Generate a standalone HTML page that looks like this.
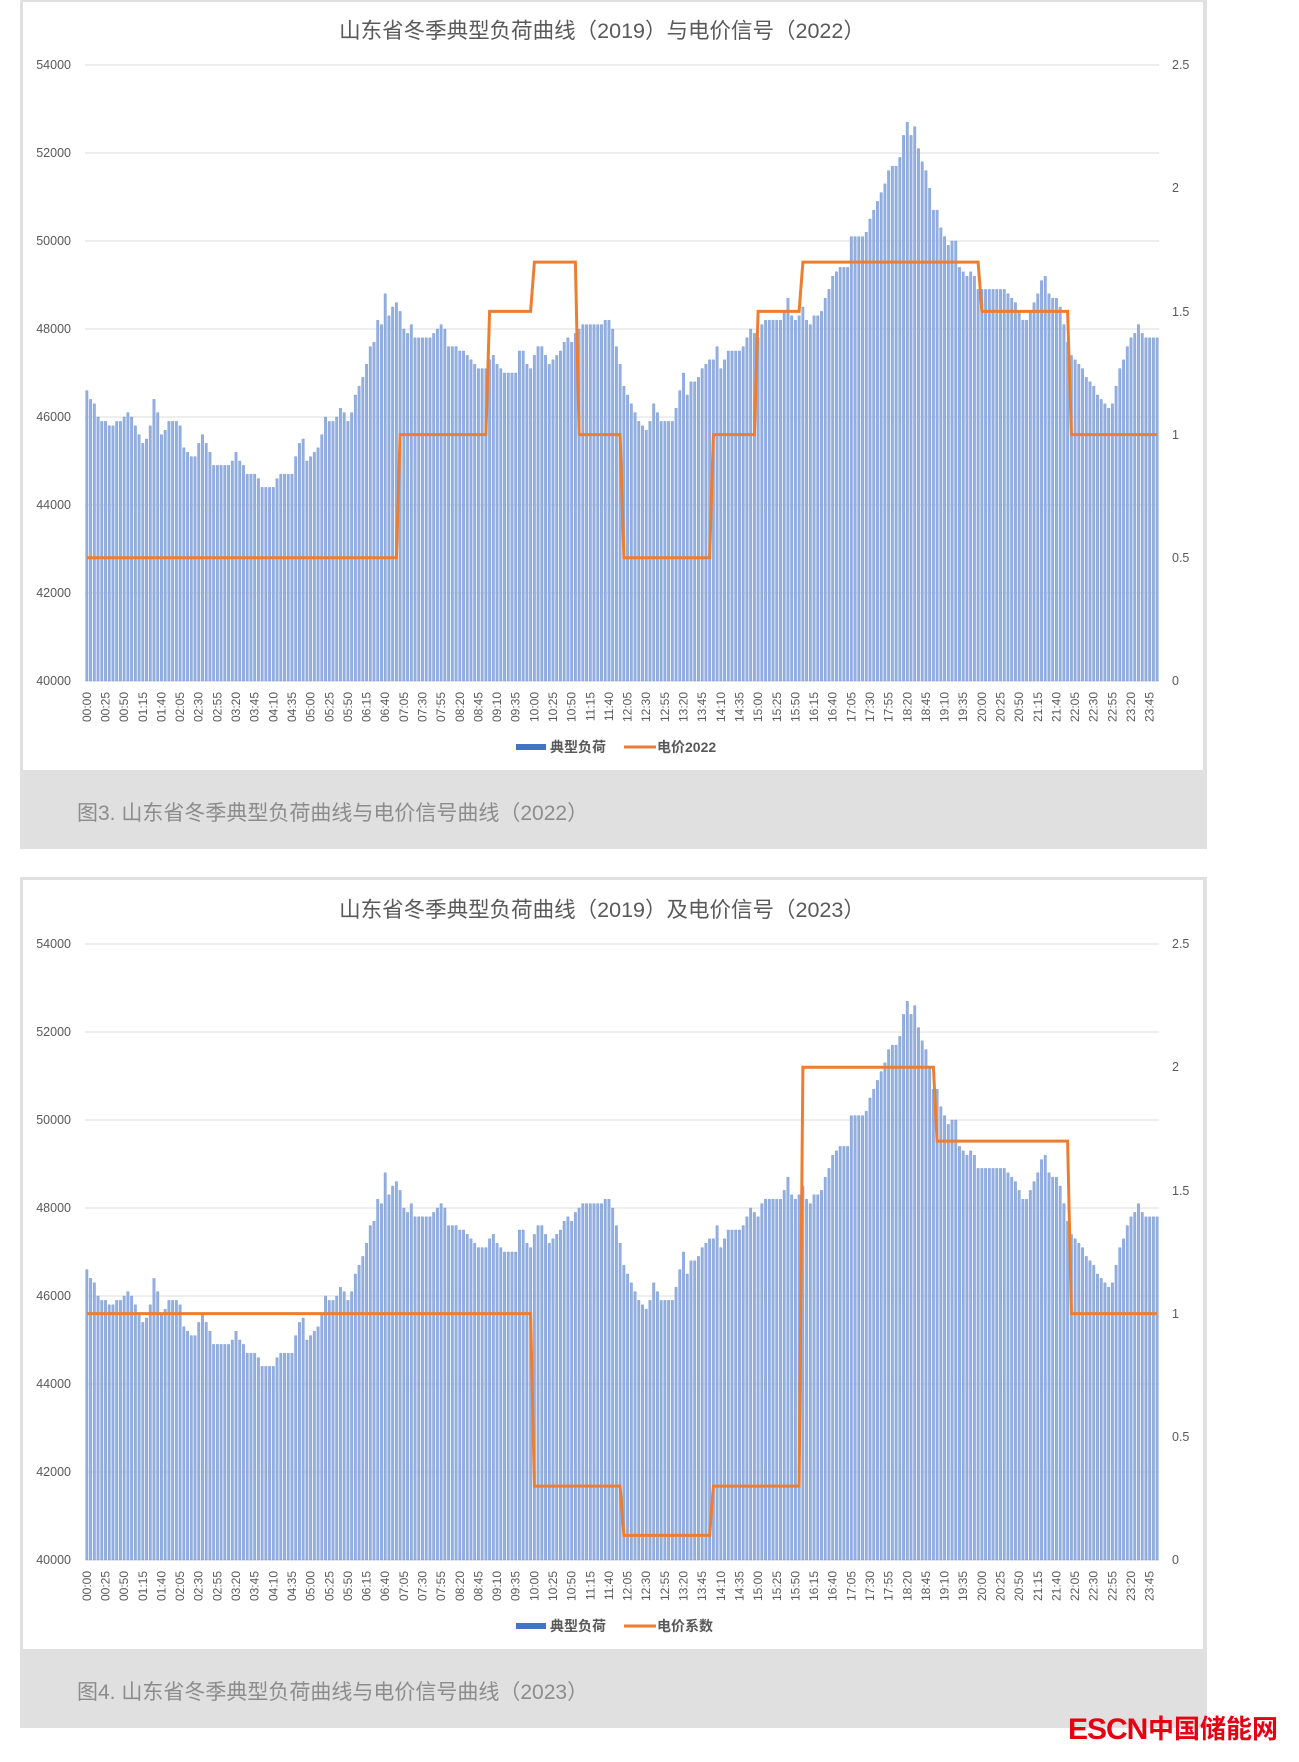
<!DOCTYPE html>
<html><head><meta charset="utf-8">
<style>
html,body{margin:0;padding:0;background:#fff;}
svg{display:block;}
text{font-family:"Liberation Sans","Noto Sans CJK SC",sans-serif;}
.t{font-size:21.5px;fill:#595959;}
.yl{font-size:12.5px;fill:#595959;text-anchor:end;}
.yr{font-size:12.5px;fill:#595959;}
.xl text{font-size:12px;fill:#595959;text-anchor:end;}
.lg{font-size:14px;fill:#595959;font-weight:bold;}
.cap{font-size:21px;fill:#8c8c8c;}
</style></head><body>
<svg id="s" width="1299" height="1762" viewBox="0 0 1299 1762" xmlns="http://www.w3.org/2000/svg">
<rect width="1299" height="1762" fill="#fff"/>
<g id="c1">
 <rect x="20" y="0" width="1187" height="849" fill="#e0e0e0"/>
 <rect x="23" y="2" width="1180" height="768" fill="#fff"/>
 <g class="grid"></g>
 <g class="bars"></g>
 <polyline class="price" fill="none" stroke="#ed7d31" stroke-width="3" stroke-linejoin="miter"/>
 <text class="t" x="602" y="38" text-anchor="middle">山东省冬季典型负荷曲线（2019）与电价信号（2022）</text>
 <text class="yl" x="71" y="69">54000</text><text class="yl" x="71" y="157">52000</text><text class="yl" x="71" y="245">50000</text><text class="yl" x="71" y="333">48000</text><text class="yl" x="71" y="421">46000</text><text class="yl" x="71" y="509">44000</text><text class="yl" x="71" y="597">42000</text><text class="yl" x="71" y="685">40000</text>
 <text class="yr" x="1172" y="69">2.5</text><text class="yr" x="1172" y="192">2</text><text class="yr" x="1172" y="316">1.5</text><text class="yr" x="1172" y="439">1</text><text class="yr" x="1172" y="562">0.5</text><text class="yr" x="1172" y="685">0</text>
 <g class="xl"><text>00:00</text><text>00:25</text><text>00:50</text><text>01:15</text><text>01:40</text><text>02:05</text><text>02:30</text><text>02:55</text><text>03:20</text><text>03:45</text><text>04:10</text><text>04:35</text><text>05:00</text><text>05:25</text><text>05:50</text><text>06:15</text><text>06:40</text><text>07:05</text><text>07:30</text><text>07:55</text><text>08:20</text><text>08:45</text><text>09:10</text><text>09:35</text><text>10:00</text><text>10:25</text><text>10:50</text><text>11:15</text><text>11:40</text><text>12:05</text><text>12:30</text><text>12:55</text><text>13:20</text><text>13:45</text><text>14:10</text><text>14:35</text><text>15:00</text><text>15:25</text><text>15:50</text><text>16:15</text><text>16:40</text><text>17:05</text><text>17:30</text><text>17:55</text><text>18:20</text><text>18:45</text><text>19:10</text><text>19:35</text><text>20:00</text><text>20:25</text><text>20:50</text><text>21:15</text><text>21:40</text><text>22:05</text><text>22:30</text><text>22:55</text><text>23:20</text><text>23:45</text></g>
 <rect x="516" y="744" width="30" height="6" fill="#4472c4"/>
 <text class="lg" x="550" y="752">典型负荷</text>
 <line x1="624" y1="747" x2="656" y2="747" stroke="#ed7d31" stroke-width="3"/>
 <text class="lg" x="657" y="752">电价2022</text>
 <text class="cap" x="77" y="820">图3. 山东省冬季典型负荷曲线与电价信号曲线（2022）</text>
</g>
<g id="c2" transform="translate(0,879)">
 <rect x="20" y="-2" width="1187" height="851" fill="#e0e0e0"/>
 <rect x="23" y="1" width="1180" height="769" fill="#fff"/>
 <g class="grid"></g>
 <g class="bars"></g>
 <polyline class="price" fill="none" stroke="#ed7d31" stroke-width="3" stroke-linejoin="miter"/>
 <text class="t" x="602" y="38" text-anchor="middle">山东省冬季典型负荷曲线（2019）及电价信号（2023）</text>
 <text class="yl" x="71" y="69">54000</text><text class="yl" x="71" y="157">52000</text><text class="yl" x="71" y="245">50000</text><text class="yl" x="71" y="333">48000</text><text class="yl" x="71" y="421">46000</text><text class="yl" x="71" y="509">44000</text><text class="yl" x="71" y="597">42000</text><text class="yl" x="71" y="685">40000</text>
 <text class="yr" x="1172" y="69">2.5</text><text class="yr" x="1172" y="192">2</text><text class="yr" x="1172" y="316">1.5</text><text class="yr" x="1172" y="439">1</text><text class="yr" x="1172" y="562">0.5</text><text class="yr" x="1172" y="685">0</text>
 <g class="xl"><text>00:00</text><text>00:25</text><text>00:50</text><text>01:15</text><text>01:40</text><text>02:05</text><text>02:30</text><text>02:55</text><text>03:20</text><text>03:45</text><text>04:10</text><text>04:35</text><text>05:00</text><text>05:25</text><text>05:50</text><text>06:15</text><text>06:40</text><text>07:05</text><text>07:30</text><text>07:55</text><text>08:20</text><text>08:45</text><text>09:10</text><text>09:35</text><text>10:00</text><text>10:25</text><text>10:50</text><text>11:15</text><text>11:40</text><text>12:05</text><text>12:30</text><text>12:55</text><text>13:20</text><text>13:45</text><text>14:10</text><text>14:35</text><text>15:00</text><text>15:25</text><text>15:50</text><text>16:15</text><text>16:40</text><text>17:05</text><text>17:30</text><text>17:55</text><text>18:20</text><text>18:45</text><text>19:10</text><text>19:35</text><text>20:00</text><text>20:25</text><text>20:50</text><text>21:15</text><text>21:40</text><text>22:05</text><text>22:30</text><text>22:55</text><text>23:20</text><text>23:45</text></g>
 <rect x="516" y="744" width="30" height="6" fill="#4472c4"/>
 <text class="lg" x="550" y="752">典型负荷</text>
 <line x1="624" y1="747" x2="656" y2="747" stroke="#ed7d31" stroke-width="3"/>
 <text class="lg" x="657" y="752">电价系数</text>
 <text class="cap" x="77" y="820">图4. 山东省冬季典型负荷曲线与电价信号曲线（2023）</text>
</g>
<text x="1068" y="1739" style="font-size:30px;font-weight:bold;fill:#e60012;letter-spacing:-1px">ESCN</text>
<text x="1148" y="1738" style="font-size:26px;font-weight:bold;fill:#e60012;">中国储能网</text>
</svg>
<script>
var NS="http://www.w3.org/2000/svg";
var L=85,R=1159,N=288,W=(R-L)/N;
function yv(v){return 681-(v-40000)*88/2000;}
function yp(p){return 681-p*246.4;}
var cp=[[78,46600],[84,46300],[90,45900],[100,45800],[108,45900],[115,46100],[122,45800],[125,45500],[130,45400],[135,45900],[138,46400],[142,46000],[145,45500],[150,45900],[160,45900],[165,45200],[175,45100],[180,45600],[185,45400],[190,44900],[205,44900],[210,45200],[215,45000],[220,44700],[228,44700],[235,44400],[245,44400],[248,44700],[260,44700],[265,45200],[270,45600],[274,45000],[280,45200],[285,45400],[290,46000],[295,45900],[300,46000],[305,46300],[310,45900],[314,46100],[318,46600],[325,47000],[330,47600],[334,47700],[337,48200],[340,48100],[343,48900],[346,48200],[350,48500],[353,48600],[357,48400],[362,47700],[366,48200],[370,47800],[378,47800],[385,47800],[395,48200],[400,47600],[415,47500],[420,47300],[425,47100],[435,47100],[438,47500],[442,47200],[450,47000],[460,47000],[464,47700],[468,47300],[472,47000],[480,47700],[484,47500],[490,47200],[500,47500],[505,47800],[510,47700],[515,48000],[522,48100],[535,48100],[543,48200],[548,47800],[552,47200],[555,46800],[560,46400],[565,46100],[570,45800],[575,45700],[580,46000],[583,46400],[587,46000],[590,45900],[600,45900],[605,46500],[608,47100],[612,46500],[616,46800],[620,46800],[625,47100],[630,47300],[635,47300],[638,47700],[642,47100],[648,47500],[660,47500],[668,48000],[675,47800],[680,48200],[695,48200],[700,48500],[702,48700],[706,48200],[712,48300],[715,48500],[720,48000],[725,48300],[730,48300],[735,48700],[740,49100],[742,49300],[750,49400],[756,49400],[758,50100],[770,50100],[775,50500],[780,50800],[785,51100],[790,51500],[794,51700],[800,51700],[803,52300],[808,52700],[811,52400],[815,52600],[818,52000],[822,51700],[826,51500],[830,50700],[834,50700],[838,50300],[842,50000],[846,49800],[850,50300],[853,49400],[858,49300],[861,49200],[866,49300],[870,48900],[895,48900],[900,48700],[905,48600],[910,48200],[915,48200],[920,48600],[925,48900],[930,49300],[934,48800],[940,48700],[945,48400],[950,47700],[954,47400],[958,47300],[962,47200],[966,46900],[970,46800],[975,46600],[980,46400],[985,46300],[988,46100],[992,46500],[996,47000],[1000,47300],[1005,47800],[1010,47900],[1014,48100],[1018,47800],[1024,47800],[1030,47800]];
function load(i){var xd=78+i*(1030-78)/(N-1);for(var k=0;k<cp.length-1;k++){if(xd<=cp[k+1][0]){var a=cp[k],b=cp[k+1];var t=(xd-a[0])/(b[0]-a[0]);return a[1]+(b[1]-a[1])*t;}}return cp[cp.length-1][1];}
var p1=[[0,7,0.5],[7,9,1],[9,10,1.5],[10,11,1.7],[11,12,1],[12,14,0.5],[14,15,1],[15,16,1.5],[16,20,1.7],[20,22,1.5],[22,24,1]];
var p2=[[0,10,1],[10,12,0.3],[12,14,0.1],[14,16,0.3],[16,19,2],[19,22,1.7],[22,24,1]];
function cx(i){return L+(i+0.5)*W;}
function build(g,segs){
 var grid=g.querySelector('.grid'),bars=g.querySelector('.bars');
 for(var v=40000;v<=54000;v+=2000){var l=document.createElementNS(NS,'line');l.setAttribute('x1',L);l.setAttribute('x2',R);l.setAttribute('y1',yv(v));l.setAttribute('y2',yv(v));l.setAttribute('stroke','#e3e3e3');l.setAttribute('stroke-width','1.2');grid.appendChild(l);}
 var d='';
 for(var i=0;i<N;i++){var v=Math.round(load(i)/100)*100;var y=yv(v);var x=cx(i)-1.2;d+='M'+x.toFixed(2)+' '+y.toFixed(1)+'h2.4V681h-2.4z';}
 var p=document.createElementNS(NS,'path');p.setAttribute('d',d);p.setAttribute('fill','#93afe0');p.setAttribute('stroke','#7a99d3');p.setAttribute('stroke-width','0.4');bars.appendChild(p);
 var pts=[];segs.forEach(function(s){pts.push(cx(s[0]*12).toFixed(1)+','+yp(s[2]).toFixed(1));pts.push(cx(s[1]*12-1).toFixed(1)+','+yp(s[2]).toFixed(1));});
 g.querySelector('.price').setAttribute('points',pts.join(' '));
 var ts=g.querySelectorAll('.xl text');for(var k=0;k<ts.length;k++){var x=cx(k*5)+4;ts[k].setAttribute('transform','translate('+x.toFixed(1)+',692) rotate(-90)');}
}
build(document.getElementById('c1'),p1);
build(document.getElementById('c2'),p2);
</script>
</body></html>
